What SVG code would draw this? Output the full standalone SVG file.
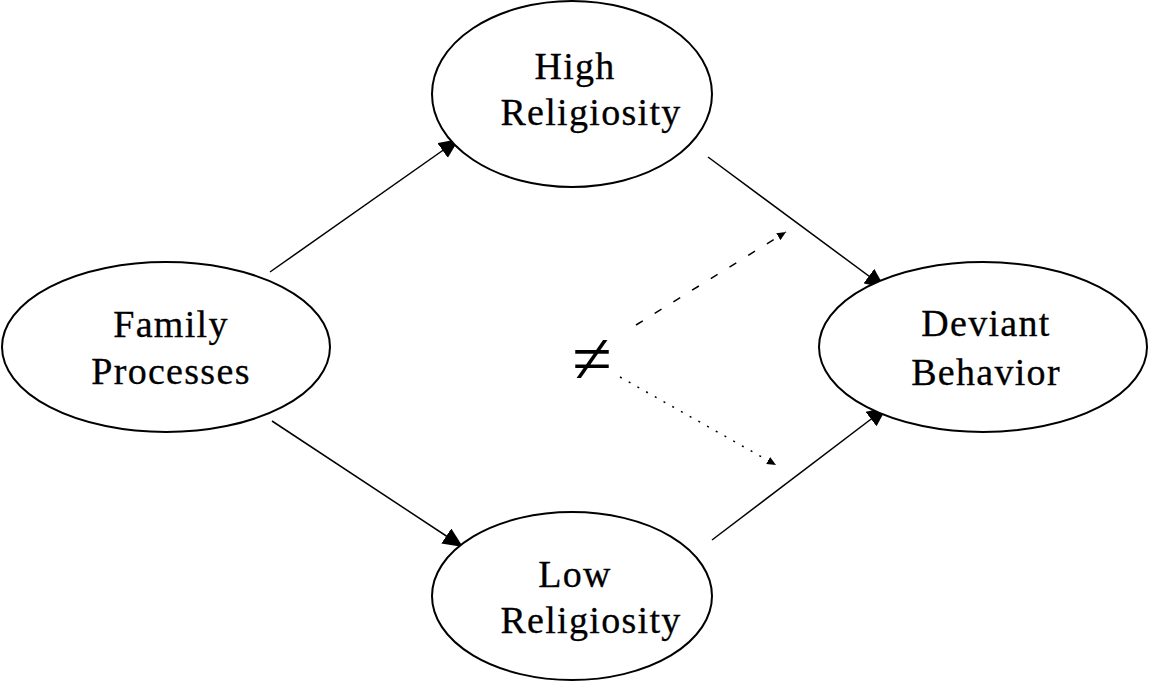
<svg xmlns="http://www.w3.org/2000/svg" width="1160" height="681" viewBox="0 0 1160 681">
<style>
.node ellipse{fill:#fff;stroke:#000;stroke-width:2}
.node text{font-family:"Liberation Serif","Times New Roman",serif;font-size:38px;letter-spacing:1.3px;fill:#000;stroke:#000;stroke-width:0.3;text-anchor:middle}
.edge{stroke:#000;stroke-width:1.5;fill:none}
</style>
<defs>
<marker id="big" viewBox="0 0 10 10" refX="10" refY="5" markerWidth="20" markerHeight="18" markerUnits="userSpaceOnUse" orient="auto" preserveAspectRatio="none"><path d="M0,0 L10,5 L0,10 z" fill="#000"/></marker>
<marker id="small" viewBox="0 0 10 10" refX="10" refY="5" markerWidth="9" markerHeight="8" markerUnits="userSpaceOnUse" orient="auto" preserveAspectRatio="none"><path d="M0,0 L10,5 L0,10 z" fill="#000"/></marker>
</defs>
<rect width="1160" height="681" fill="#fff"/>
<g id="connectors">
<line class="edge" x1="270" y1="272" x2="459" y2="139" marker-end="url(#big)"/>
<line class="edge" x1="708" y1="157" x2="885" y2="288" marker-end="url(#big)"/>
<line class="edge" x1="272" y1="421" x2="463" y2="547" marker-end="url(#big)"/>
<line class="edge" x1="712" y1="540" x2="887" y2="407" marker-end="url(#big)"/>
<line class="edge" x1="636" y1="325" x2="786" y2="232" stroke-dasharray="8,14" stroke-width="1.3" marker-end="url(#small)"/>
<line class="edge" x1="620" y1="377" x2="776" y2="465" stroke-dasharray="2,8" stroke-width="1.5" marker-end="url(#small)"/>
</g>
<g id="family" class="node"><ellipse cx="166" cy="347" rx="164" ry="85"/><text x="171" y="337">Family</text><text x="171" y="384">Processes</text></g>
<g id="high" class="node"><ellipse cx="572" cy="94" rx="140" ry="93"/><text x="575" y="79">High</text><text x="591" y="125">Religiosity</text></g>
<g id="low" class="node"><ellipse cx="572" cy="596" rx="140" ry="84"/><text x="575" y="587">Low</text><text x="591" y="633">Religiosity</text></g>
<g id="deviant" class="node"><ellipse cx="983" cy="347" rx="164" ry="85"/><text x="986" y="336">Deviant</text><text x="986" y="385">Behavior</text></g>
<text x="592" y="383" font-family="Liberation Serif,serif" font-size="72" text-anchor="middle">≠</text>
</svg>
